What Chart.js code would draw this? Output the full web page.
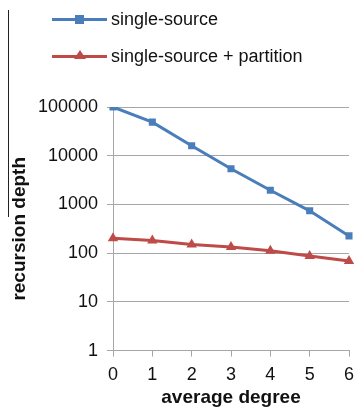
<!DOCTYPE html>
<html>
<head>
<meta charset="utf-8">
<script src="https://cdn.jsdelivr.net/npm/chart.js@4.4.1/dist/chart.umd.min.js"></script>
<style>
  html, body { margin: 0; padding: 0; background: #fff; }
  #wrap { position: relative; width: 355px; height: 411px; font-family: "Liberation Sans", Arial, sans-serif; }
  #chart { position: absolute; left: 0; top: 0; }
  .edge { position: absolute; left: 8px; top: 10px; width: 1px; height: 207px; background: #222; }
  .legend { position: absolute; left: 52px; top: 6px; font-size: 18px; color: #111; }
  .item { position: relative; height: 37px; line-height: 26px; padding-left: 59px; white-space: nowrap; }
  .item .ln { position: absolute; left: 0; top: 12px; width: 55px; height: 3px; }
  .item .sq { position: absolute; left: 23px; top: 9px; width: 9px; height: 9px; }
  .item .tri { position: absolute; left: 22px; top: 7px; width: 0; height: 0;
               border-left: 6px solid transparent; border-right: 6px solid transparent; }
</style>
</head>
<body>
<div id="wrap">
  <canvas id="chart" width="355" height="411"></canvas>
  <div class="edge"></div>
  <div class="legend" id="legend"></div>
</div>
<script>
const degrees = ['0', '1', '2', '3', '4', '5', '6'];
const singleSource = [100000, 49000, 16000, 5400, 1950, 740, 226];
const singleSourcePartition = [202, 182, 150, 134, 112, 87, 69];
const yTicks = [1, 10, 100, 1000, 10000, 100000];

const blue = '#4a7ebb';
const red = '#be4b48';
const gridColor = '#a6a6a6';

const series = [
  { label: 'single-source', data: singleSource, color: blue, marker: 'rect' },
  { label: 'single-source + partition', data: singleSourcePartition, color: red, marker: 'triangle' }
];

// html legend: line with marker in the middle
const legend = document.getElementById('legend');
series.forEach(s => {
  const item = document.createElement('div');
  item.className = 'item';
  let mark = s.marker === 'rect'
    ? '<span class="sq" style="background:' + s.color + '"></span>'
    : '<span class="tri" style="border-bottom:9px solid ' + s.color + '"></span>';
  item.innerHTML = '<span class="ln" style="background:' + s.color + '"></span>' + mark + s.label;
  legend.appendChild(item);
});

const ctx = document.getElementById('chart').getContext('2d');
new Chart(ctx, {
  type: 'line',
  data: {
    labels: degrees,
    datasets: series.map(s => ({
      label: s.label,
      data: s.data,
      borderColor: s.color,
      backgroundColor: s.color,
      borderWidth: 3,
      pointStyle: s.marker,
      pointRadius: s.marker === 'rect' ? 5 : 6,
      pointBorderWidth: 0,
      tension: 0
    }))
  },
  options: {
    responsive: false,
    animation: false,
    layout: { padding: { top: 107, right: 5, left: 0, bottom: 2 } },
    plugins: { legend: { display: false }, tooltip: { enabled: false } },
    scales: {
      x: {
        offset: false,
        afterFit: scale => { scale.paddingRight = 0; },
        grid: { drawOnChartArea: false, color: gridColor, tickLength: 6 },
        border: { color: gridColor },
        ticks: { color: '#111', font: { family: 'Liberation Sans', size: 18 }, padding: 8, maxRotation: 0 },
        title: { display: true, text: 'average degree', color: '#111',
                 font: { family: 'Liberation Sans', size: 19, weight: 'bold' }, padding: { top: -8, bottom: 0 } }
      },
      y: {
        type: 'logarithmic',
        min: 1,
        max: 100000,
        afterBuildTicks: scale => { scale.ticks = yTicks.map(v => ({ value: v })); },
        afterFit: scale => { scale.width = 113; },
        grid: { color: gridColor, tickLength: 6 },
        border: { color: gridColor },
        ticks: { color: '#111', font: { family: 'Liberation Sans', size: 18 }, padding: 9,
                 callback: v => String(v) },
        title: { display: true, text: 'recursion depth', color: '#111',
                 font: { family: 'Liberation Sans', size: 19, weight: 'bold' }, padding: { top: 8, bottom: 0 } }
      }
    }
  }
});
</script>
</body>
</html>
